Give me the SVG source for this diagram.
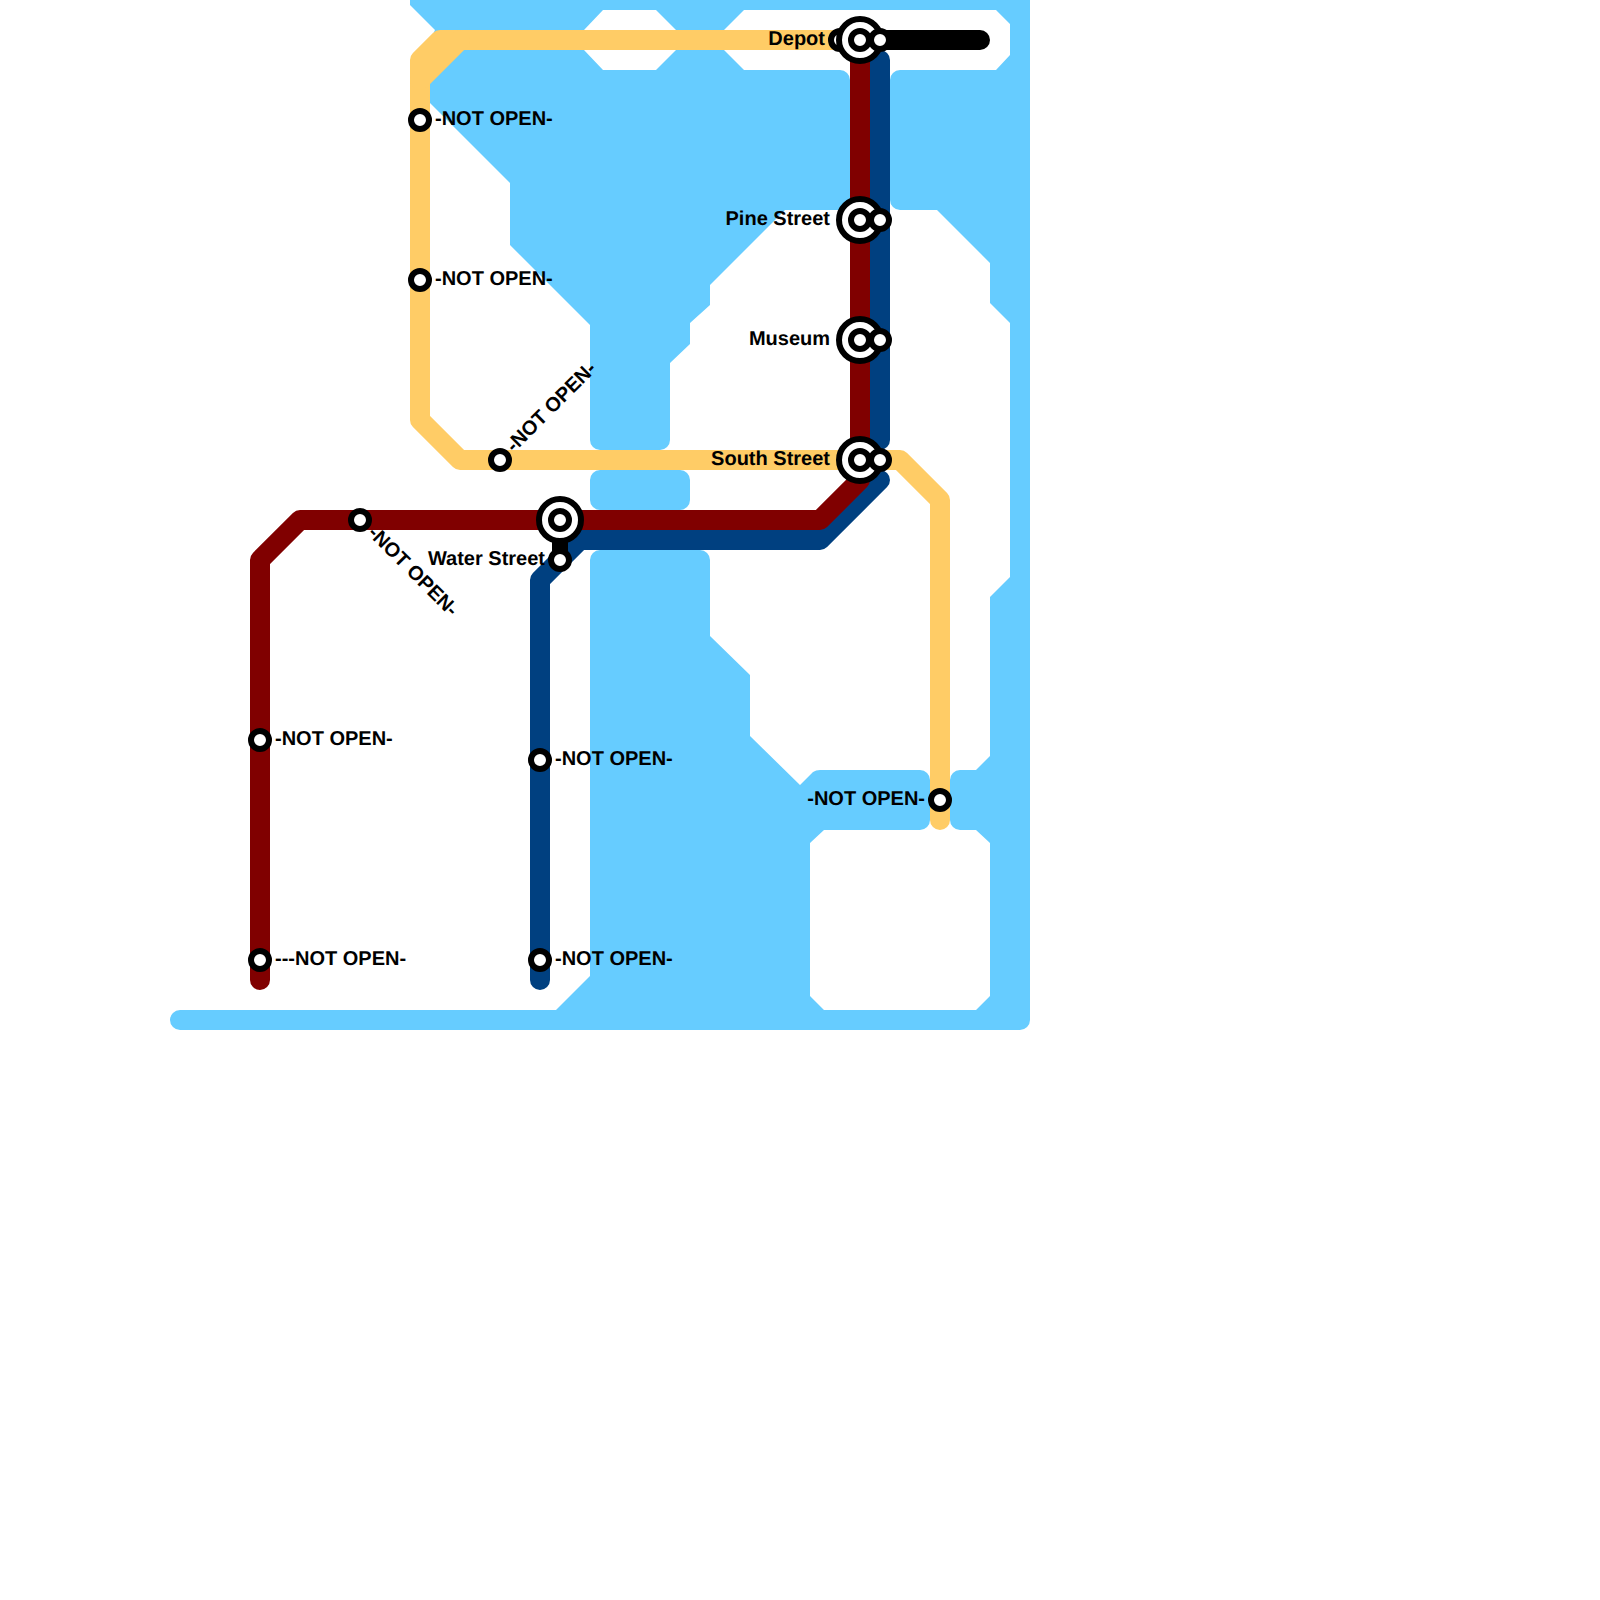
<svg xmlns="http://www.w3.org/2000/svg" width="1600" height="1600" viewBox="0 0 1600 1600">
<style>
.line{fill:none;stroke-width:20;stroke-linecap:round;stroke-linejoin:round}
.ring{fill:#fff;stroke:#000;stroke-width:6}
.link{stroke:#000;stroke-width:16}
text{font-family:"Liberation Sans",Arial,sans-serif;font-weight:700;font-size:20px;fill:#000;text-rendering:geometricPrecision}
.e{text-anchor:end}
</style>
<defs>
<circle id="s" class="ring" r="9"/>
<circle id="b" class="ring" r="21"/>
</defs>
<rect width="1600" height="1600" fill="#fff"/>
<path id="water" fill="#66ccff" fill-rule="evenodd" d="M410,0H1030V1020A10,10 0 0 1 1020,1030H180A10,10 0 0 1 180,1010H556L590,976V560A10,10 0 0 1 600,550H700A10,10 0 0 1 710,560V636L750,675V736L800,785L813,772Q816,770 820,770H920A10,10 0 0 1 930,780V820A10,10 0 0 1 920,830H824L810,843V996L824,1010H976L990,996V843L976,830H960A10,10 0 0 1 950,820V780A10,10 0 0 1 960,770H976L990,756V597L1010,577V323L990,303V263L937,210H900A10,10 0 0 1 890,200V80A10,10 0 0 1 900,70H996L1010,55V24L996,10H744L724,30V50L744,70H840A10,10 0 0 1 850,80V210H785L710,285V305L690,323V344L670,363V440A10,10 0 0 1 660,450H600A10,10 0 0 1 590,440V325L510,245V183L430,103V40L435,30L410,5Z M603,10H656L676,30V50L656,70H603L584,50V30Z M600,470H680A10,10 0 0 1 690,480V500A10,10 0 0 1 680,510H600A10,10 0 0 1 590,500V480A10,10 0 0 1 600,470Z"/>
<g id="connectors">
<path class="line" stroke="#004080" d="M880,60V440"/>
<path class="line" stroke="#004080" d="M880,480L820,540H580L540,580V980"/>
<path class="line" stroke="#800000" d="M260,980V560L300,520H820L860,480V40"/>
<path class="line" stroke="#000" d="M860,40H980"/>
<path class="line" stroke="#ffcc66" d="M940,820V500L900,460H460L420,420V60L440,40H840"/>
<path class="line" stroke="#ffcc66" d="M420,80L460,40"/>
</g>
<g id="depot">
<line class="link" x1="860" y1="40" x2="880" y2="40"/>
<use href="#s" x="840" y="40"/><use href="#b" x="860" y="40"/><use href="#s" x="860" y="40"/><use href="#s" x="880" y="40"/>
<text class="e" x="825" y="45">Depot</text>
</g>
<g id="pine-street">
<line class="link" x1="860" y1="220" x2="880" y2="220"/>
<use href="#b" x="860" y="220"/><use href="#s" x="860" y="220"/><use href="#s" x="880" y="220"/>
<text class="e" x="830" y="225">Pine Street</text>
</g>
<g id="museum">
<line class="link" x1="860" y1="340" x2="880" y2="340"/>
<use href="#b" x="860" y="340"/><use href="#s" x="860" y="340"/><use href="#s" x="880" y="340"/>
<text class="e" x="830" y="345">Museum</text>
</g>
<g id="south-street">
<line class="link" x1="860" y1="460" x2="880" y2="460"/>
<use href="#b" x="860" y="460"/><use href="#s" x="860" y="460"/><use href="#s" x="880" y="460"/>
<text class="e" x="830" y="465">South Street</text>
</g>
<g id="water-street">
<line class="link" x1="560" y1="520" x2="560" y2="560"/>
<use href="#b" x="560" y="520"/><use href="#s" x="560" y="520"/><use href="#s" x="560" y="560"/>
<text class="e" x="545" y="565">Water Street</text>
</g>
<g id="y1"><use href="#s" x="420" y="120"/><text x="435" y="125">-NOT OPEN-</text></g>
<g id="y2"><use href="#s" x="420" y="280"/><text x="435" y="285">-NOT OPEN-</text></g>
<g id="y3"><use href="#s" x="500" y="460"/><text transform="translate(514,453) rotate(-45)">-NOT OPEN-</text></g>
<g id="y4"><use href="#s" x="940" y="800"/><text class="e" x="925" y="805">-NOT OPEN-</text></g>
<g id="r1"><use href="#s" x="360" y="520"/><text transform="translate(367,534) rotate(45)">-NOT OPEN-</text></g>
<g id="r2"><use href="#s" x="260" y="740"/><text x="275" y="745">-NOT OPEN-</text></g>
<g id="r3"><use href="#s" x="260" y="960"/><text x="275" y="965">---NOT OPEN-</text></g>
<g id="b1"><use href="#s" x="540" y="760"/><text x="555" y="765">-NOT OPEN-</text></g>
<g id="b2"><use href="#s" x="540" y="960"/><text x="555" y="965">-NOT OPEN-</text></g>
</svg>
